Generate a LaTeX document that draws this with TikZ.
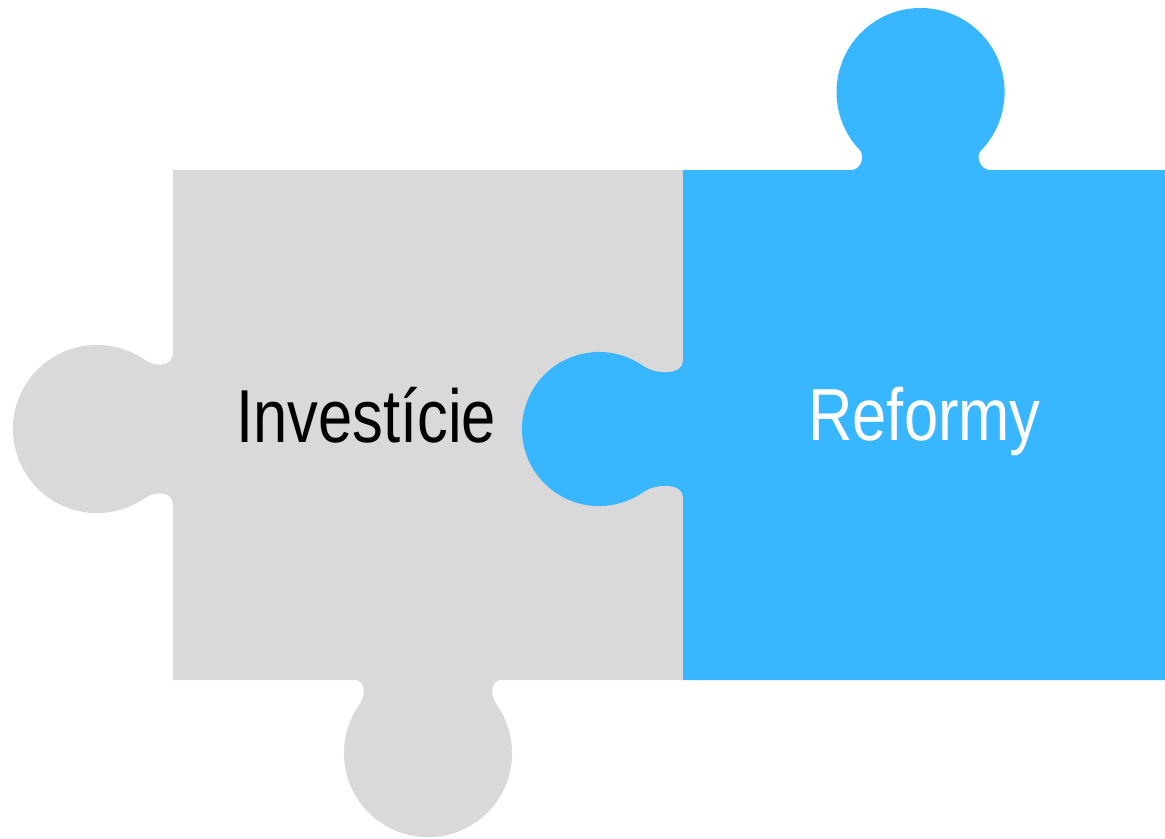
\documentclass[tikz,border=0pt]{standalone}
\usepackage{fontspec}
\setmainfont{Liberation Sans}
\definecolor{graypc}{HTML}{D9D9D9}
\definecolor{bluepc}{HTML}{38B6FF}
\tikzset{
  lbl/.style={anchor=base, inner sep=0pt, font=\fontsize{17.5}{20}\selectfont},
}
\begin{document}
\begin{tikzpicture}[x=0.01cm, y=0.01cm, yscale=-1]
\useasboundingbox (0,0) rectangle (1165,838);
% gray piece
\fill[graypc] (173,170) -- (683,170) -- (683,680) -- (499,680)
  .. controls (490,683) and (491,696) .. (496,703.7)
  arc[start angle=-36, end angle=216, radius=0.84cm]
  .. controls (365,696) and (366,683) .. (357,680)
  -- (173,680) -- (173,505)
  .. controls (173,491) and (155,490.9) .. (145.2,497.8)
  arc[start angle=55, end angle=305, radius=0.84cm]
  .. controls (155,367.1) and (173,367) .. (173,353)
  -- cycle;
% blue piece
\fill[bluepc] (683,170) -- (852,170)
  .. controls (861,169) and (865,157) .. (860.1,150.4)
  arc[start angle=136, end angle=404, radius=0.84cm]
  .. controls (975.3,156.2) and (980,169) .. (989,170)
  -- (1165,170) -- (1165,680) -- (683,680) -- (683,497)
  .. controls (683,483) and (656.3,482.9) .. (643.2,492.1)
  arc[start angle=55, end angle=305, radius=0.77cm]
  .. controls (656.3,375.1) and (683,375) .. (683,361)
  -- cycle;
\node[lbl, text=black] (inv) at (366,442) {\scalebox{1}[1.22]{Investície}};
\node[lbl, text=white] (ref) at (924.5,440) {\scalebox{1}[1.2]{Reformy}};
\end{tikzpicture}
\end{document}
